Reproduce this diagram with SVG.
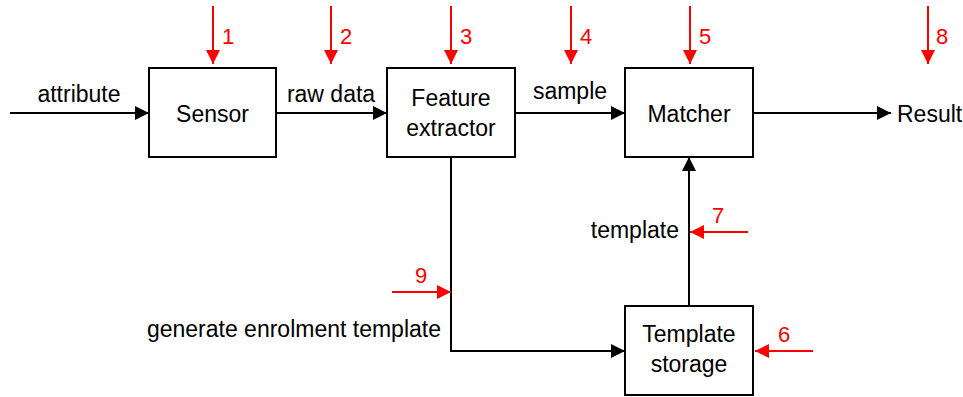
<svg xmlns="http://www.w3.org/2000/svg" width="963" height="397" viewBox="0 0 963 397">
<defs>
<marker id="ab" markerUnits="userSpaceOnUse" markerWidth="14" markerHeight="14" refX="14" refY="7" orient="auto"><path d="M0,0 L14,7 L0,14 z" fill="#000"/></marker>
<marker id="ar" markerUnits="userSpaceOnUse" markerWidth="14" markerHeight="14" refX="14" refY="7" orient="auto"><path d="M0,0 L14,7 L0,14 z" fill="#ff0000"/></marker>
</defs>
<style>
.box{fill:#fff;stroke:#000;stroke-width:2}
.t{font-family:"Liberation Sans",Arial,sans-serif;font-size:23px;fill:#000}
.c{text-anchor:middle}
.e{text-anchor:end}
.b{fill:none;stroke:#000;stroke-width:2;marker-end:url(#ab)}
.r{fill:none;stroke:#ff0000;stroke-width:2;marker-end:url(#ar)}
.rt{font-family:"Liberation Sans",Arial,sans-serif;font-size:22px;fill:#ff0000}
</style>
<rect width="963" height="397" fill="#fff"/>
<g id="connectors">
<path class="b" d="M10,113 H149"/>
<path class="b" d="M276,113 H387"/>
<path class="b" d="M515,113 H625"/>
<path class="b" d="M753,113 H891"/>
<path class="b" d="M451,157 V351 H625"/>
<path class="b" d="M689,306 V157"/>
<text class="t c" x="79" y="102">attribute</text>
<text class="t c" x="331" y="102">raw data</text>
<text class="t c" x="570" y="99">sample</text>
<text class="t e" x="679" y="238">template</text>
<text class="t e" x="441" y="337">generate enrolment template</text>
</g>
<g id="sensor"><rect class="box" x="149" y="68" width="127" height="89"/><text class="t c" x="212.5" y="122">Sensor</text></g>
<g id="feature-extractor"><rect class="box" x="387" y="68" width="128" height="89"/><text class="t c" x="451" y="106">Feature</text><text class="t c" x="451" y="136">extractor</text></g>
<g id="matcher"><rect class="box" x="625" y="68" width="128" height="89"/><text class="t c" x="689" y="122">Matcher</text></g>
<g id="template-storage"><rect class="box" x="625" y="306" width="128" height="89"/><text class="t c" x="689" y="342">Template</text><text class="t c" x="689" y="372">storage</text></g>
<g id="result"><text class="t" x="897" y="122">Result</text></g>
<g id="attack-points">
<path class="r" d="M213,6 V64"/><text class="rt" x="222" y="44">1</text>
<path class="r" d="M331,6 V64"/><text class="rt" x="340" y="44">2</text>
<path class="r" d="M451,6 V64"/><text class="rt" x="460" y="44">3</text>
<path class="r" d="M571,6 V64"/><text class="rt" x="580" y="44">4</text>
<path class="r" d="M690,6 V64"/><text class="rt" x="699" y="44">5</text>
<path class="r" d="M928,6 V64"/><text class="rt" x="936" y="44">8</text>
<path class="r" d="M748,232 H690"/><text class="rt c" x="718" y="223">7</text>
<path class="r" d="M813,351 H755"/><text class="rt c" x="784" y="342">6</text>
<path class="r" d="M392,292 H451"/><text class="rt c" x="421" y="283">9</text>
</g>
</svg>
